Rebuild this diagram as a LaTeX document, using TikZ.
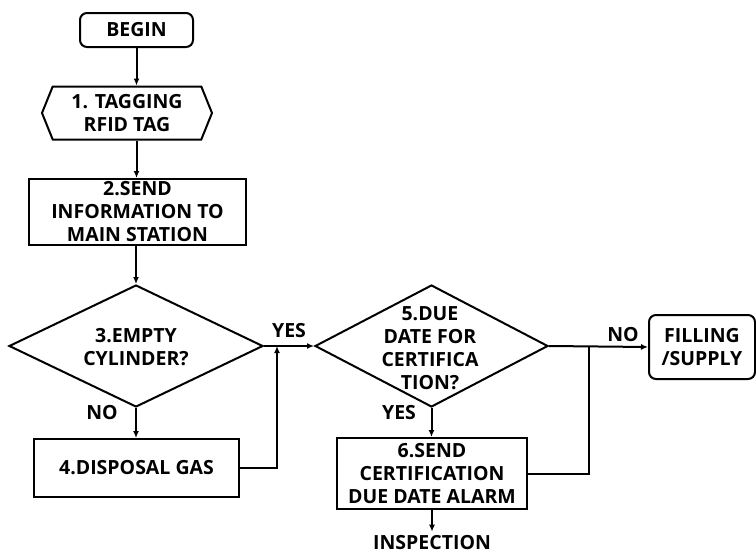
\documentclass[tikz,border=0pt]{standalone}
\usepackage{fontspec}
\setmainfont{Open Sans}
\usetikzlibrary{shapes.geometric,shapes.symbols,arrows.meta}
\begin{document}
\begin{tikzpicture}[x=1pt,y=-1pt,
  every node/.style={font=\fontsize{19.5}{23}\selectfont\bfseries, align=center},
  line/.style={line width=2pt},
  arr/.style={line, -{Latex[length=7pt,width=6pt]}},
  proc/.style={draw, line width=2pt, rectangle, inner sep=0pt},
  term/.style={proc, rounded corners=7pt},
  dec/.style={draw, line width=2pt, diamond, inner sep=0pt},
  hexa/.style={draw, line width=2pt, signal, signal to=west and east, signal pointer angle=136, inner sep=0pt},
  lbl/.style={inner sep=1pt}
]
\useasboundingbox (0,0) rectangle (756,557);
\node[term, minimum width=113pt, minimum height=34pt] (begin) at (136.5,30) {BEGIN};
\node[hexa, minimum width=170pt, minimum height=53pt] (tag) at (127,113) {1. TAGGING\\RFID TAG};
\node[proc, minimum width=217pt, minimum height=66pt] (send) at (137.5,212) {2.SEND\\INFORMATION TO\\MAIN STATION};
\node[dec, minimum width=254pt, minimum height=122pt] (d3) at (136,346) {};
\node (d3t) at (136,347) {3.EMPTY\\CYLINDER?};
\node[proc, minimum width=205pt, minimum height=58pt] (dis) at (136.5,468) {4.DISPOSAL GAS};
\node[dec, minimum width=233pt, minimum height=122pt] (d5) at (431.5,346) {};
\node (d5t) at (430,348) {5.DUE\\DATE FOR\\CERTIFICA\\TION?};
\node[proc, minimum width=190pt, minimum height=71pt] (alarm) at (432,473.5) {6.SEND\\CERTIFICATION\\DUE DATE ALARM};
\node[term, minimum width=106pt, minimum height=64pt] (fill) at (702,347) {FILLING\\/SUPPLY};
\node[inner sep=4pt] (insp) at (432,543) {INSPECTION};
\node[lbl] (yes1) at (289,331) {YES};
\node[lbl] (no1) at (102,413) {NO};
\node[lbl] (yes2) at (399,413) {YES};
\node[lbl] (no2) at (623,335) {NO};
\coordinate (j1) at (277,346);
\coordinate (j2) at (589,346);
\draw[arr] (begin.south) -- (begin.south |- tag.north);
\draw[arr] (begin.south |- tag.south) -- (begin.south |- send.north);
\draw[arr] (d3.north |- send.south) -- (d3.north);
\draw[arr] (d3.south) -- (d3.south |- dis.north);
\draw[arr] (d3.east) -- (d5.west);
\draw[arr] (dis.east) -| (j1);
\draw[arr] (d5.east) -- (fill.west);
\draw[line] (alarm.east) -| (j2);
\draw[arr] (d5.south) -- (d5.south |- alarm.north);
\draw[arr] (alarm.south) -- (insp.north);
\end{tikzpicture}
\end{document}
